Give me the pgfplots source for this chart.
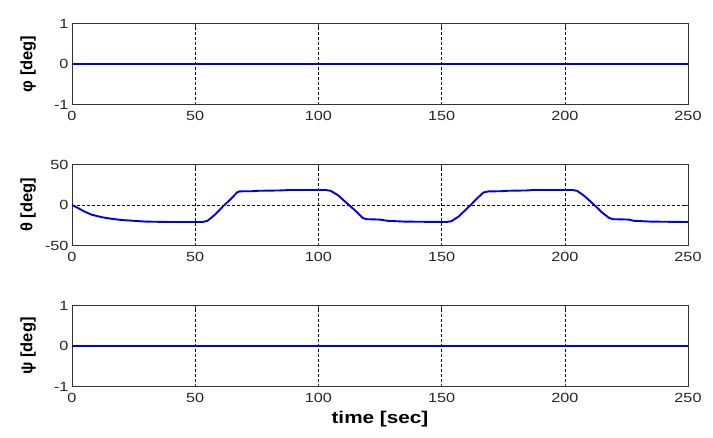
\documentclass[border=0pt]{standalone}
\usepackage{fontspec}
\setmainfont{Liberation Sans}[FakeStretch=1.22]
\newfontfamily\ylabfont{Liberation Sans}
\usepackage{pgfplots}
\pgfplotsset{compat=1.18}
\definecolor{mblue}{RGB}{0,0,225}

\pgfplotsset{
  panel/.style={
    scale only axis, width=616pt, height=81pt,
    xmin=0, xmax=250, xtick={0,50,100,150,200,250},
    axis line style={black!80, line width=0.8pt},
    tick style={black!80, line width=0.6pt},
    tick align=inside, major tick length=3pt,
    grid=major,
    major grid style={black, line width=0.6pt, dash pattern=on 3pt off 2pt},
    /pgf/number format/assume math mode=true,
    tick label style={font=\fontsize{13.3}{14}\selectfont, text=black!85},
    xticklabel style={yshift=-3pt},
    every axis y label/.style={at={(axis description cs:-0.0714,0.5)}, rotate=90, anchor=center,
      font=\ylabfont\bfseries\fontsize{16.5}{17}\selectfont},
  },
  sig/.style={mblue, line width=1.9pt, no marks},
}

\begin{document}
\begin{tikzpicture}
\path[use as bounding box] (0,0) rectangle (713pt,-437pt);

% roll
\begin{axis}[panel, at={(72pt,-23.5pt)}, anchor=north west,
  ymin=-1, ymax=1, ytick={-1,0,1}, ylabel={φ [deg]}]
\addplot[sig] coordinates {(0,0) (250,0)};
\end{axis}

% pitch
\begin{axis}[panel, at={(72pt,-164.5pt)}, anchor=north west,
  ymin=-50, ymax=50, ytick={-50,0,50}, ylabel={θ [deg]}]
\addplot[sig] coordinates {
(0,0) (2,-3) (5,-8) (8,-12) (12,-15) (16,-17) (20,-18.5) (25,-19.5) (30,-20.5)
(40,-21) (53,-21) (55,-19.5) (58,-12) (61.5,-1) (64,6) (67,15.5) (68,16.8)
(70,17) (73,17) (75,17.5) (85,18) (88,18.5) (103,18.5) (105,17.5) (108,12)
(112,1) (115,-7) (118,-16) (119.5,-17.5) (125,-18) (128,-19.5) (135,-20.5)
(152,-21) (154,-20) (157,-14) (161.8,0) (164,7) (167,15.5) (169,16.8)
(174,17) (176,17.5) (185,18) (187,18.5) (203,18.5) (205,17.5) (208,11)
(212,0) (215,-9) (218,-16) (219.5,-17.5) (226,-18) (228,-19.5) (235,-20.5) (250,-21)
};
\end{axis}

% yaw
\begin{axis}[panel, at={(72pt,-305.5pt)}, anchor=north west,
  ymin=-1, ymax=1, ytick={-1,0,1}, ylabel={ψ [deg]},
  xlabel={time [sec]}, xlabel style={font=\bfseries\fontsize{17}{18}\selectfont, yshift=-2pt}]
\addplot[sig] coordinates {(0,0) (250,0)};
\end{axis}
\end{tikzpicture}
\end{document}
